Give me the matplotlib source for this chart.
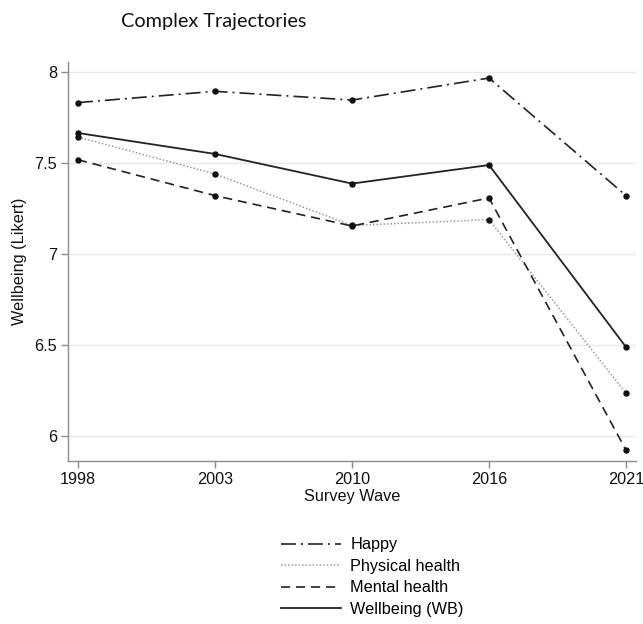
import matplotlib
matplotlib.use("Agg")
import matplotlib.pyplot as plt
from matplotlib.lines import Line2D

waves = ["1998", "2003", "2010", "2016", "2021"]
happy = [7.830, 7.892, 7.844, 7.965, 7.319]
physical = [7.641, 7.438, 7.155, 7.187, 6.234]
mental = [7.516, 7.319, 7.152, 7.306, 5.921]
wellbeing = [7.663, 7.548, 7.385, 7.487, 6.487]

series_labels = ["Happy", "Physical health", "Mental health", "Wellbeing (WB)"]

plt.rcParams["font.family"] = ["Liberation Sans", "DejaVu Sans"]

fig = plt.figure(figsize=(6.43, 6.24), dpi=100)
ax = fig.add_axes([68 / 643, 1 - 461 / 624, (636 - 68) / 643, (461 - 62) / 624])

x = list(range(len(waves)))
styles = [
    dict(color="#222222", lw=1.2, dashes=(9, 3, 1.2, 3)),
    dict(color="#9a9a9a", lw=1.1, dashes=(1, 1.3)),
    dict(color="#222222", lw=1.2, dashes=(5.5, 3.5)),
    dict(color="#222222", lw=1.3, linestyle="-"),
]
data = [happy, physical, mental, wellbeing]

handles = []
for vals, st, lab in zip(data, styles, series_labels):
    ax.plot(x, vals, zorder=3, **st)
    ax.plot(x, vals, linestyle="none", marker="o", markersize=3.6,
            color="#111111", zorder=4)
    handles.append(Line2D([], [], label=lab, **st))

ax.set_xlim(-0.073, 4.073)
ax.set_ylim(5.861, 8.053)
ax.set_xticks(x)
ax.set_xticklabels(waves)
ax.set_yticks([6, 6.5, 7, 7.5, 8])
ax.set_yticklabels(["6", "6.5", "7", "7.5", "8"])

ax.grid(axis="y", color="#e8e8e8", lw=1.0, zorder=0)
ax.set_axisbelow(True)
for side in ["top", "right"]:
    ax.spines[side].set_visible(False)
for side in ["left", "bottom"]:
    ax.spines[side].set_color("#8c8c8c")
    ax.spines[side].set_linewidth(1.0)
ax.tick_params(axis="both", colors="#8c8c8c", labelcolor="#111111",
               labelsize=11.7, length=5, width=1.0, direction="out", pad=3)

ax.set_xlabel("Survey Wave", fontsize=11.7, color="#111111", labelpad=1)
ax.set_ylabel("Wellbeing (Likert)", fontsize=11.7, color="#111111", labelpad=5)

fig.text(121 / 643, 1 - 27 / 624, "Complex Trajectories", fontsize=14.3,
         family=["Lato", "DejaVu Sans"], color="#111111",
         ha="left", va="baseline")

fig.legend(handles=handles, loc="upper left",
           bbox_to_anchor=(274 / 643, 1 - 531 / 624), frameon=False,
           fontsize=11.7, handlelength=3.7, handletextpad=0.6,
           labelspacing=0.4, borderaxespad=0)

fig.savefig("out.png", dpi=100)
